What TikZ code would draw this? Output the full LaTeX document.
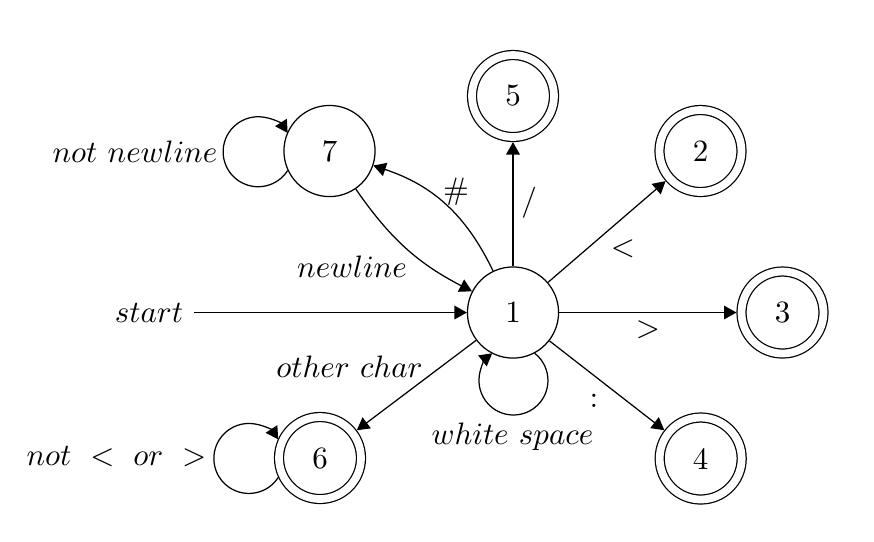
\documentclass[tikz,border=0pt]{standalone}
\usetikzlibrary{arrows.meta}
\begin{document}
\begin{tikzpicture}[x=0.3226pt,y=-0.3226pt,
  st/.style={circle,draw,inner sep=0pt,minimum size=29.4pt,line width=0.4pt},
  acc/.style={circle,draw,inner sep=0pt,minimum size=26.45pt,line width=0.4pt,double,double distance=2.5pt,outer sep=1.65pt},
  arr/.style={-{Triangle[length=4pt,width=4.4pt]},line width=0.4pt},
  lbl/.style={inner sep=0pt}]
\useasboundingbox (0,0) rectangle (874,541);
% states
\node[st]  (n1) at (513,312.5) {1};
\node[acc] (n5) at (513,96) {5};
\node[acc] (n2) at (700.5,151) {2};
\node[acc] (n3) at (782.5,312.5) {3};
\node[acc] (n4) at (700.7,458.5) {4};
\node[acc] (n6) at (320,458) {6};
\node[st]  (n7) at (329.5,151) {7};
\node (start) at (149,312.5) {$start$};
% transitions
\draw[arr] (start) -- (n1);
\draw[arr] (n1) -- (n5);
\draw[arr] (n1) -- (n2);
\draw[arr] (n1) -- (n3);
\draw[arr] (n1) -- (n4);
\draw[arr] (n1) -- (n6);
\draw[arr] (n7) to[bend right=14] (n1);
\draw[arr] (n1) to[bend right=23] (n7);
% loops
\draw[arr] (n7.205.5) arc[start angle=-32.5,end angle=-327.5,radius=11.29pt];
\draw[arr] (n6.205) arc[start angle=-33,end angle=-327,radius=11.29pt];
\draw[arr] (n1.-62.2) arc[start angle=52,end angle=-232,radius=11.13pt];
% labels
\node[lbl] (l5) at (529,203) {$/$};
\node[lbl] (l2) at (623,249) {$<$};
\node[lbl] (l3) at (648,330) {$>$};
\node[lbl] (l4) at (594,401) {$:$};
\node[lbl] (l7) at (456,192) {$\#$};
\node[lbl] (lnl) at (352,267) {$newline$};
\node[lbl] (loc) at (349.5,367) {$other\ char$};
\node[lbl] (lnn) at (135,152) {$not\ newline$};
\node[lbl] (lno) at (116.5,457) {$not\ <\ or\ >$};
\node[lbl] (lws) at (512.5,437) {$white\ space$};
\end{tikzpicture}
\end{document}
